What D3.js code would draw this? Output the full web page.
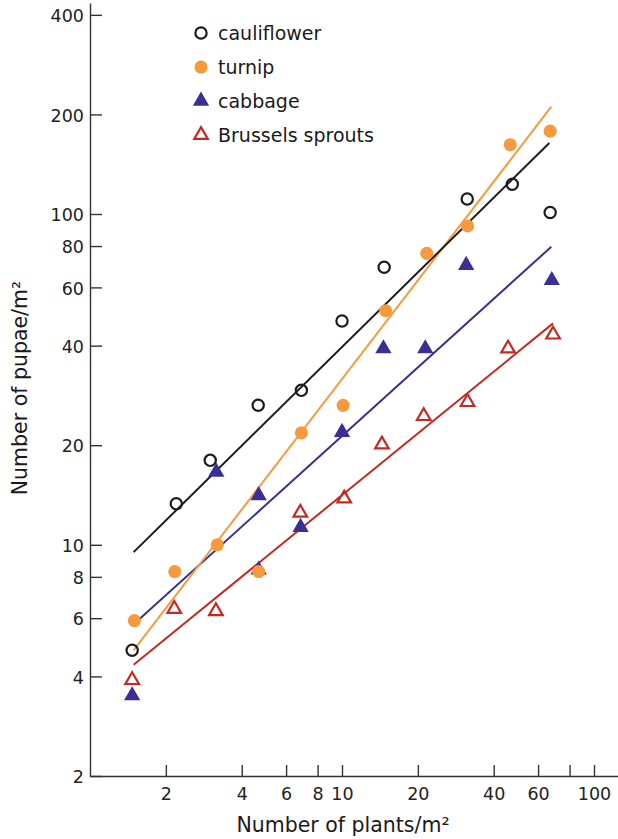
<!DOCTYPE html>
<html>
<head>
<meta charset="utf-8">
<script src="https://cdn.jsdelivr.net/npm/d3@7"></script>
<style>
  body { margin: 0; background: #fff; }
  svg { display: block; font-family: 'DejaVu Sans', sans-serif; }
  .axis path, .axis line { stroke: #333; stroke-width: 1.4; }
  .axis text { fill: #222; font-size: 17.5px; font-family: 'DejaVu Sans', sans-serif; }
</style>
</head>
<body>
<svg id="chart" width="618" height="839"></svg>
<script>
// data (plants/m2 -> pupae/m2)
const cauliflowerX = [1.47, 2.2, 3.0, 4.65, 6.9, 10, 14.7, 31.4, 47.4, 67];
const cauliflowerY = [4.8, 13.3, 18, 26.4, 29.3, 47.5, 69, 111, 123, 101];

const turnipX = [1.5, 2.17, 3.2, 4.67, 6.9, 10.1, 14.9, 21.7, 31.5, 46.5, 67];
const turnipY = [5.9, 8.3, 10, 8.3, 21.8, 26.4, 51, 76, 92, 162, 178];

const cabbageX = [1.47, 3.17, 4.67, 4.67, 6.85, 10, 14.6, 21.4, 31.1, 68];
const cabbageY = [3.5, 16.6, 14.1, 8.4, 11.3, 21.9, 39.2, 39.2, 70, 63];

const sproutsX = [1.47, 2.16, 3.16, 6.83, 10.2, 14.4, 21.1, 31.5, 45.6, 68.8];
const sproutsY = [3.9, 6.4, 6.3, 12.5, 13.8, 20.1, 24.5, 27, 39.2, 43.2];

// fitted lines, two end points each
const cauliflowerFit = [[1.49, 9.5], [66.5, 164]];
const turnipFit = [[1.49, 4.8], [67.7, 211]];
const cabbageFit = [[1.56, 5.93], [67.7, 79.6]];
const sproutsFit = [[1.49, 4.34], [68.8, 46.7]];

const xTicks = [2, 4, 6, 8, 10, 20, 40, 60, 80, 100];
const xTickLabels = ['2', '4', '6', '8', '10', '20', '40', '60', '', '100'];
const yTicks = [2, 4, 6, 8, 10, 20, 40, 60, 80, 100, 200, 400];

const seriesNames = ['cauliflower', 'turnip', 'cabbage', 'Brussels sprouts'];

const svg = d3.select('#chart');

const xBase = d3.scaleLog().domain([1, 100]).range([90, 594]);
const x = d3.scaleLog().domain([1, xBase.invert(618)]).range([90, 618]);
const yBase = d3.scaleLog().domain([2, 100]).range([776, 214]);
const y = d3.scaleLog().domain([yBase.invert(3), 2]).range([3, 776]);

const colors = {
  black: '#1c1c1c',
  orange: '#f59b3d',
  blue: '#3a2f94',
  red: '#c42a22',
};

const series = [
  { name: seriesNames[0], xs: cauliflowerX, ys: cauliflowerY, fit: cauliflowerFit, color: colors.black, shape: d3.symbolCircle, size: 100, fill: false },
  { name: seriesNames[1], xs: turnipX, ys: turnipY, fit: turnipFit, color: colors.orange, shape: d3.symbolCircle, size: 135, fill: true },
  { name: seriesNames[2], xs: cabbageX, ys: cabbageY, fit: cabbageFit, color: colors.blue, shape: d3.symbolTriangle, size: 115, fill: true },
  { name: seriesNames[3], xs: sproutsX, ys: sproutsY, fit: sproutsFit, color: colors.red, shape: d3.symbolTriangle, size: 80, fill: false },
];

// axes
svg.append('g')
  .attr('class', 'axis')
  .attr('transform', 'translate(0,776)')
  .call(d3.axisBottom(x)
    .tickValues(xTicks)
    .tickFormat((d, i) => xTickLabels[i])
    .tickSizeInner(-11)
    .tickSizeOuter(0)
    .tickPadding(12));

svg.append('g')
  .attr('class', 'axis')
  .attr('transform', 'translate(90,0)')
  .call(d3.axisLeft(y)
    .tickValues(yTicks)
    .tickFormat(d3.format('d'))
    .tickSizeInner(-12)
    .tickSizeOuter(0)
    .tickPadding(6))
  .selectAll('text')
  .attr('dy', '0.38em');

// fitted lines
const line = d3.line()
  .x((d) => x(d[0]))
  .y((d) => y(d[1]));

[series[2], series[3], series[1], series[0]].forEach((s) => {
  svg.append('path')
    .attr('d', line(s.fit))
    .attr('fill', 'none')
    .attr('stroke', s.color)
    .attr('stroke-width', 2);
});

// points, turnip last so its circles sit over the cabbage triangles
[series[3], series[0], series[2], series[1]].forEach((s) => {
  const sym = d3.symbol().type(s.shape).size(s.size);
  svg.append('g')
    .selectAll('path')
    .data(s.xs.map((v, i) => [v, s.ys[i]]))
    .enter()
    .append('path')
    .attr('d', sym)
    .attr('transform', (d) => `translate(${x(d[0])},${y(d[1])})`)
    .attr('fill', s.fill ? s.color : 'none')
    .attr('stroke', s.fill ? 'none' : s.color)
    .attr('stroke-width', s.fill ? 0 : 2.2);
});

// legend
const legend = svg.append('g')
  .attr('transform', 'translate(201,33)');

series.forEach((s, i) => {
  const row = legend.append('g')
    .attr('transform', `translate(0,${i * 34})`);
  row.append('path')
    .attr('d', d3.symbol().type(s.shape).size(s.size))
    .attr('fill', s.fill ? s.color : 'none')
    .attr('stroke', s.fill ? 'none' : s.color)
    .attr('stroke-width', s.fill ? 0 : 2.2);
  row.append('text')
    .attr('x', 17)
    .attr('dy', '0.36em')
    .attr('font-size', '19px')
    .attr('fill', '#1a1a1a')
    .text(s.name);
});

// axis titles
svg.append('text')
  .attr('x', 343)
  .attr('y', 832)
  .attr('text-anchor', 'middle')
  .attr('font-size', '20.5px')
  .attr('fill', '#1a1a1a')
  .text('Number of plants/m²');

svg.append('text')
  .attr('transform', 'translate(27,388) rotate(-90)')
  .attr('text-anchor', 'middle')
  .attr('font-size', '20.5px')
  .attr('fill', '#1a1a1a')
  .text('Number of pupae/m²');
</script>
</body>
</html>
